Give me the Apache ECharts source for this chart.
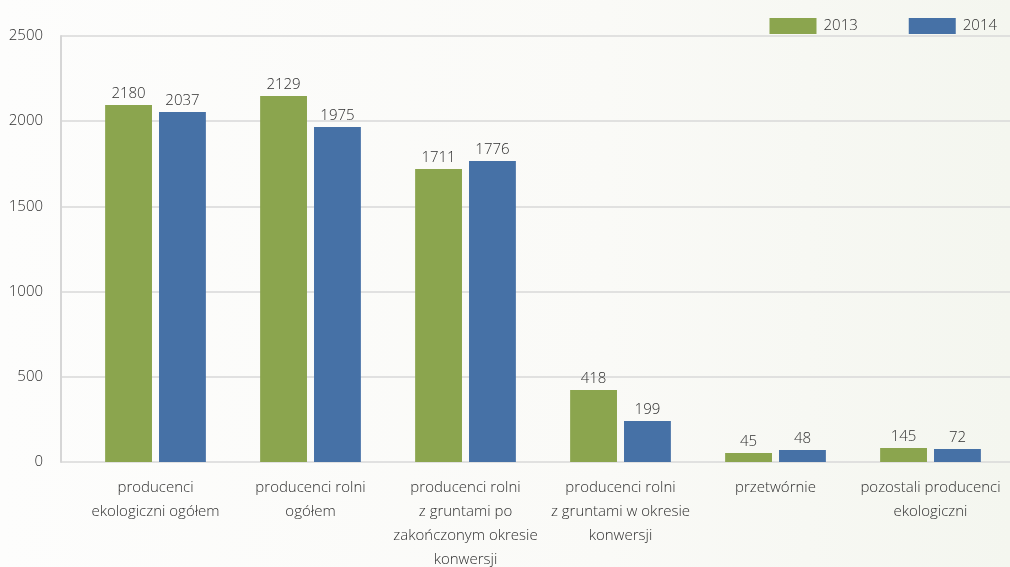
<!DOCTYPE html>
<html>
<head>
<meta charset="utf-8">
<script src="https://cdn.jsdelivr.net/npm/echarts@6/dist/echarts.min.js"></script>
<style>
html,body{margin:0;padding:0;}
#c{width:1010px;height:567px;background:linear-gradient(90deg,#fdfdfc 0%,#fafaf7 60%,#f4f6ef 100%);}
</style>
</head>
<body>
<div id="c"></div>
<script>
// Data
const categories = [
  "producenci\nekologiczni ogółem",
  "producenci rolni\nogółem",
  "producenci rolni\nz gruntami po\nzakończonym okresie\nkonwersji",
  "producenci rolni\nz gruntami w okresie\nkonwersji",
  "przetwórnie",
  "pozostali producenci\nekologiczni"
];
const seriesNames = ["2013", "2014"];
// Printed value labels
const labels2013 = [2180, 2129, 1711, 418, 45, 145];
const labels2014 = [2037, 1975, 1776, 199, 48, 72];
// Bar heights as drawn in the reference (they differ slightly from the printed labels)
const bars2013 = [2095, 2148, 1719, 422, 53, 82];
const bars2014 = [2054, 1966, 1766, 241, 70, 76];
const yTicks = [0, 500, 1000, 1500, 2000, 2500];

const FONT = "'Open Sans', sans-serif";
const TXT = "#2f2f2f";
const chart = echarts.init(document.getElementById('c'), null, {renderer: 'canvas'});

function mkLabel(arr) {
  return {
    show: true, position: 'top', distance: 4,
    fontFamily: FONT, fontSize: 15, fontWeight: 300, color: TXT,
    formatter: p => String(arr[p.dataIndex])
  };
}

chart.setOption({
  backgroundColor: 'transparent',
  animation: false,
  legend: {
    top: 13, right: 8,
    itemWidth: 47, itemHeight: 16, itemGap: 51,
    icon: 'rect',
    textStyle: {fontFamily: FONT, fontSize: 15, fontWeight: 300, color: TXT, padding: [0,0,0,2]},
    data: seriesNames
  },
  grid: [
    {left: 61, right: 0, top: 36, bottom: 105, outerBoundsMode: 'none', containLabel: false},
    {left: 78, right: 2, top: 36, bottom: 105, outerBoundsMode: 'none', containLabel: false}
  ],
  xAxis: [
    {gridIndex: 0, type: 'value', show: false, min: 0, max: 1},
    {gridIndex: 1, type: 'category', data: categories,
     axisLine: {show: false}, axisTick: {show: false},
     axisLabel: {interval: 0, margin: 14, fontFamily: FONT, fontSize: 15, fontWeight: 300, color: TXT, lineHeight: 24}}
  ],
  yAxis: [
    {gridIndex: 0, type: 'value', min: yTicks[0], max: yTicks[yTicks.length-1], interval: 500,
     axisLine: {show: true, lineStyle: {color: '#d6d6d6', width: 2}},
     axisTick: {show: false},
     axisLabel: {margin: 18, fontFamily: FONT, fontSize: 15, fontWeight: 300, color: TXT,
                 formatter: v => String(v)},
     splitLine: {show: true, lineStyle: {color: '#d9d9d9', width: 1.5}}},
    {gridIndex: 1, type: 'value', min: yTicks[0], max: yTicks[yTicks.length-1], interval: 500, show: false,
     splitLine: {show: false}}
  ],
  series: [
    {name: seriesNames[0], type: 'bar', xAxisIndex: 1, yAxisIndex: 1, data: bars2013,
     itemStyle: {color: '#8ba54e'}, barGap: '15%', barCategoryGap: '35%', label: mkLabel(labels2013)},
    {name: seriesNames[1], type: 'bar', xAxisIndex: 1, yAxisIndex: 1, data: bars2014,
     itemStyle: {color: '#4671a6'}, label: mkLabel(labels2014)}
  ]
});
</script>
</body>
</html>
